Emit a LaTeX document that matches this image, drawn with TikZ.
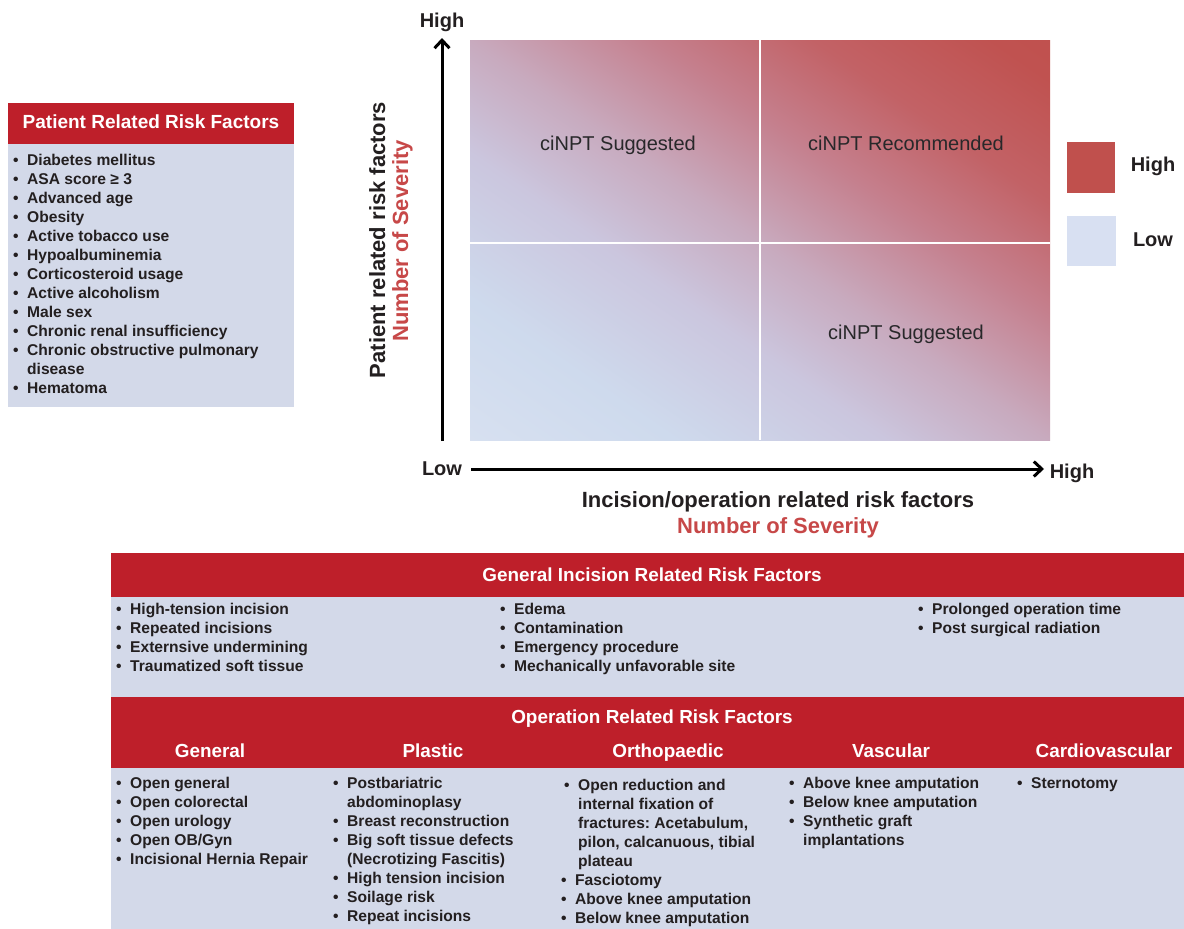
\documentclass[tikz,border=0pt]{standalone}
\usepackage{fontspec}
\setmainfont{Liberation Sans}
\usetikzlibrary{arrows.meta}
\frenchspacing
\definecolor{hdred}{RGB}{190,31,42}
\definecolor{bodyblue}{RGB}{211,217,233}
\definecolor{hired}{RGB}{192,80,77}
\definecolor{lolegend}{RGB}{216,224,242}
\definecolor{txt}{RGB}{35,31,32}
\definecolor{quadtxt}{RGB}{40,40,42}
\definecolor{sevred}{RGB}{199,72,72}
\definecolor{gA}{RGB}{225,231,244}
\definecolor{gB}{RGB}{206,218,237}
\definecolor{gC}{RGB}{203,198,222}
\definecolor{gD}{RGB}{200,170,190}
\definecolor{gE}{RGB}{197,128,142}
\definecolor{gF}{RGB}{194,98,102}
\definecolor{gG}{RGB}{192,82,80}
\definecolor{gH}{RGB}{190,76,73}
\pgfdeclareverticalshading{riskgrad}{100bp}{color(0bp)=(gA); color(27bp)=(gB); color(40bp)=(gC); color(50bp)=(gD); color(61bp)=(gE); color(71bp)=(gF); color(82bp)=(gG); color(100bp)=(gH)}
\newcommand\bl{\makebox[14pt][l]{•}}
\newcommand\ind{\hspace*{14pt}}
\newcommand\fs{\rule{0pt}{13pt}}
\begin{document}
\begin{tikzpicture}[x=1pt,y=-1pt,
  listtxt/.style={anchor=north west, inner sep=0pt, align=left, text=txt, font=\bfseries\fontsize{15.6}{19}\selectfont},
  hdr/.style={anchor=base, inner sep=0pt, text=white, font=\bfseries\fontsize{18.9}{22}\selectfont},
  quad/.style={anchor=base, inner sep=0pt, text=quadtxt, font=\fontsize{20}{24}\selectfont},
  lab/.style={anchor=base, inner sep=0pt, text=txt, font=\bfseries\fontsize{20}{24}\selectfont},
  axlab/.style={anchor=base, inner sep=0pt, text=txt, font=\bfseries\fontsize{22}{26}\selectfont},
  axisline/.style={line width=3pt, black, -{Straight Barb[length=8pt,width=15pt]}},
  divider/.style={white, line width=1.5pt},
  swatch/.style={inner sep=0pt, draw=none}]
\useasboundingbox (0,0) rectangle (1184,929);
\fill[white] (0,0) rectangle (1184,929);

% ---------- Patient related box ----------
\fill[bodyblue] (8,144) rectangle (294,407);
\fill[hdred] (8,103) rectangle (294,144);
\node[hdr, font=\bfseries\fontsize{19}{22}\selectfont] (prhead) at (151,128) {Patient Related Risk Factors};
\node[listtxt] (prlist) at (13,152) {\fs\bl Diabetes mellitus\\
\bl ASA score ≥ 3\\
\bl Advanced age\\
\bl Obesity\\
\bl Active tobacco use\\
\bl Hypoalbuminemia\\
\bl Corticosteroid usage\\
\bl Active alcoholism\\
\bl Male sex\\
\bl Chronic renal insufficiency\\
\bl Chronic obstructive pulmonary\\
\ind disease\\
\bl Hematoma};

% ---------- Risk matrix ----------
\begin{scope}[transform canvas={shift={(470,440)}, xscale=5.8, yscale=4}]
  \shade[shading=riskgrad, shading angle=-45] (0,0) rectangle (100,-100);
\end{scope}
\draw[divider] (760,40) -- (760,440);
\draw[divider] (470,243) -- (1050,243);
\node[quad] (q1) at (618,150) {ciNPT Suggested};
\node[quad] (q2) at (906,150) {ciNPT Recommended};
\node[quad] (q3) at (906,339) {ciNPT Suggested};

% ---------- Legend ----------
\node[swatch, fill=hired, minimum width=48pt, minimum height=51pt] (leghi) at (1091,167.5) {};
\node[swatch, fill=lolegend, minimum width=49pt, minimum height=50pt] (leglo) at (1091.5,241) {};
\node[lab] (leghit) at (1153,171) {High};
\node[lab] (leglot) at (1153,246) {Low};

% ---------- Axes ----------
\coordinate (ybot) at (442,441);
\coordinate (ytop) at (442,38);
\coordinate (xleft) at (471,469);
\coordinate (xright) at (1044,469);
\draw[axisline] (ybot) -- (ytop);
\draw[axisline] (xleft) -- (xright);
\node[lab] (yhigh) at (442,27) {High};
\node[lab] (xlow) at (442,475) {Low};
\node[lab] (xhigh) at (1072,478) {High};
\node[axlab] (xt1) at (778,507) {Incision/operation related risk factors};
\node[axlab, text=sevred] (xt2) at (778,533) {Number of Severity};
\node[axlab, rotate=90] (yt1) at (385,240) {Patient related risk factors};
\node[axlab, rotate=90, text=sevred] (yt2) at (408,241) {Number of Severity};

% ---------- General incision related ----------
\fill[hdred] (111,553) rectangle (1184,597);
\fill[bodyblue] (111,597) rectangle (1184,697);
\node[hdr] (gihead) at (652,581) {General Incision Related Risk Factors};
\node[listtxt] (gi1) at (116,601) {\fs\bl High-tension incision\\
\bl Repeated incisions\\
\bl Externsive undermining\\
\bl Traumatized soft tissue};
\node[listtxt] (gi2) at (500,601) {\fs\bl Edema\\
\bl Contamination\\
\bl Emergency procedure\\
\bl Mechanically unfavorable site};
\node[listtxt] (gi3) at (918,601) {\fs\bl Prolonged operation time\\
\bl Post surgical radiation};

% ---------- Operation related ----------
\fill[hdred] (111,697) rectangle (1184,768);
\fill[bodyblue] (111,768) rectangle (1184,929);
\node[hdr] (ophead) at (652,723) {Operation Related Risk Factors};
\node[hdr] (opgen) at (210,757) {General};
\node[hdr] (oppla) at (433,757) {Plastic};
\node[hdr] (oport) at (668,757) {Orthopaedic};
\node[hdr] (opvas) at (891,757) {Vascular};
\node[hdr] (opcar) at (1104,757) {Cardiovascular};
\node[listtxt] (lgen) at (116,775) {\fs\bl Open general\\
\bl Open colorectal\\
\bl Open urology\\
\bl Open OB/Gyn\\
\bl Incisional Hernia Repair};
\node[listtxt] (lpla) at (333,775) {\fs\bl Postbariatric\\
\ind abdominoplasy\\
\bl Breast reconstruction\\
\bl Big soft tissue defects\\
\ind (Necrotizing Fascitis)\\
\bl High tension incision\\
\bl Soilage risk\\
\bl Repeat incisions};
\node[listtxt] (lort) at (561,777) {\fs\hspace*{3pt}\bl Open reduction and\\
\hspace*{17pt}internal fixation of\\
\hspace*{17pt}fractures: Acetabulum,\\
\hspace*{17pt}pilon, calcanuous, tibial\\
\hspace*{17pt}plateau\\
\bl Fasciotomy\\
\bl Above knee amputation\\
\bl Below knee amputation};
\node[listtxt] (lvas) at (789,775) {\fs\bl Above knee amputation\\
\bl Below knee amputation\\
\bl Synthetic graft\\
\ind implantations};
\node[listtxt] (lcar) at (1017,775) {\fs\bl Sternotomy};
\end{tikzpicture}
\end{document}
